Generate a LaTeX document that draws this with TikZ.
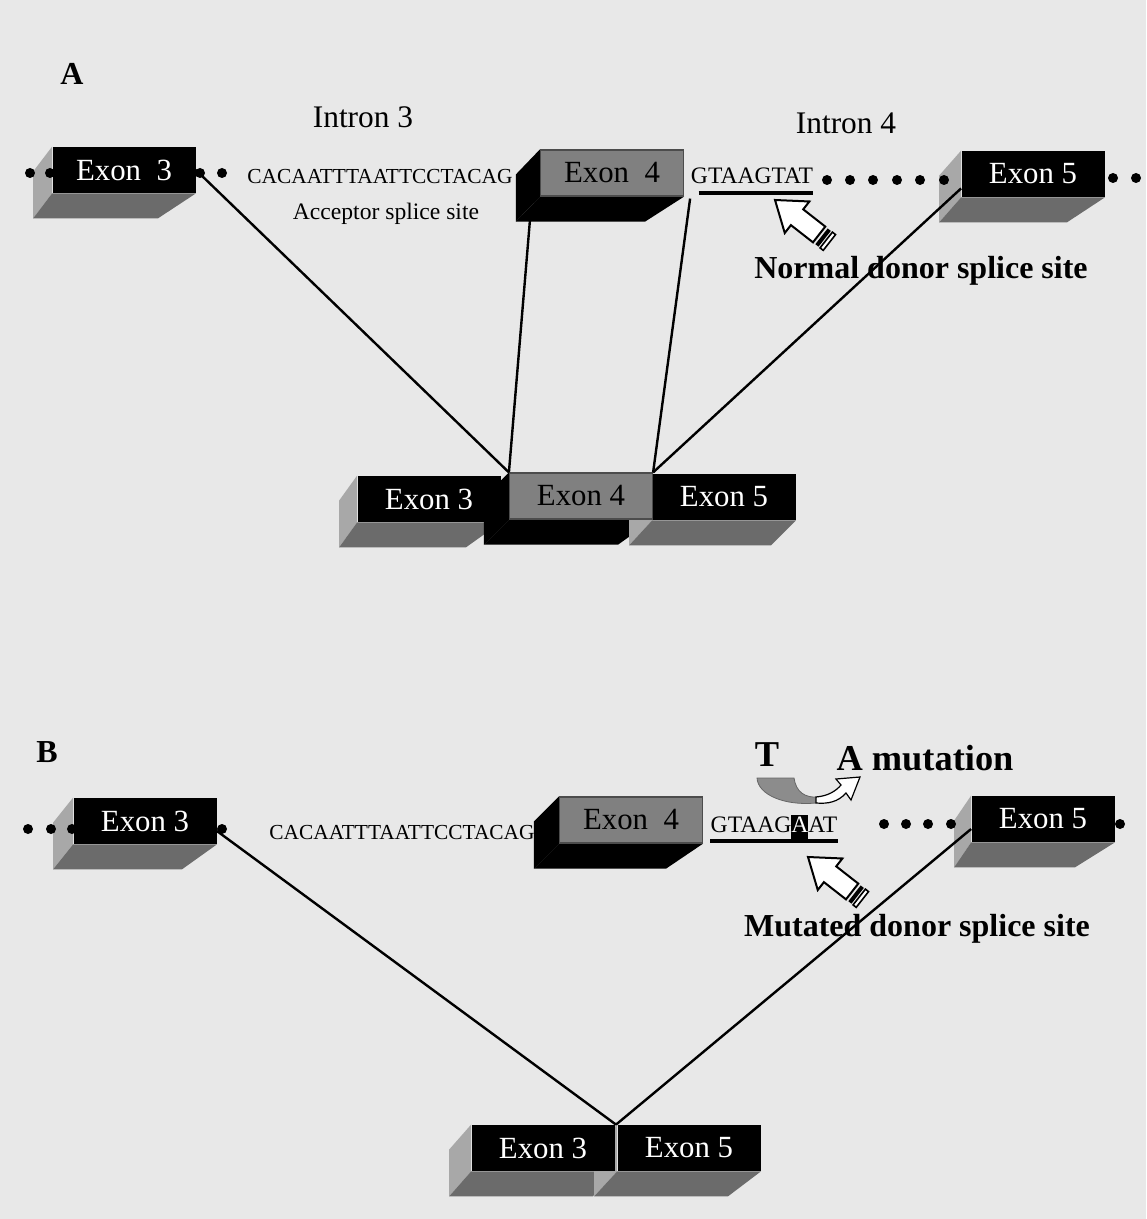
\documentclass[tikz,border=0pt]{standalone}
\usepackage{fontspec}
\setmainfont{Liberation Serif}
\usetikzlibrary{calc}
\pgfdeclarelayer{bg}
\pgfdeclarelayer{back}
\pgfsetlayers{bg,back,main}
\definecolor{paper}{gray}{0.91}
\definecolor{exongrey}{gray}{0.50}
\definecolor{sidelight}{gray}{0.66}
\definecolor{sidedark}{gray}{0.42}
\definecolor{arcgrey}{gray}{0.55}
\tikzset{
    exon/.style={rectangle, minimum width=71.5pt, minimum height=23pt, inner sep=0pt,
        font=\fontsize{15.4}{18}\selectfont},
    blackexon/.style={exon, fill=black, text=white},
    greyexon/.style={exon, fill=exongrey, draw=black!70, line width=0.6pt, text=black},
    seq/.style={inner sep=0pt, anchor=base, font=\fontsize{11.8}{14}\selectfont},
    introntext/.style={inner sep=0pt, anchor=base, font=\fontsize{15.7}{18}\selectfont},
    boldtext/.style={inner sep=0pt, anchor=base, font=\bfseries\fontsize{16}{19}\selectfont},
    panel/.style={inner sep=0pt, anchor=base, font=\bfseries\fontsize{16}{19}\selectfont},
    splice/.style={line width=1.2pt}
}
% side and bottom faces of an exon block, behind the front face
\newcommand{\bevel}[5]{%
    \begin{pgfonlayer}{back}
        \fill[#2] (#1.north west) -- (#1.south west) -- ($(#1.south west)+(#4,25)$) -- ($(#1.north west)+(#4,25)$) -- cycle;
        \fill[#3] (#1.south west) -- (#1.south east) -- ($(#1.south east)+(#5,25)$) -- ($(#1.south west)+(#4,25)$) -- cycle;
    \end{pgfonlayer}}
% white block arrow pointing at a splice site
\newcommand{\hollowarrow}[2]{%
    \begin{scope}[shift={#1}, rotate=#2]
        \draw[fill=white, line width=1pt] (0,0) -- (-28,20) -- (-28,10) -- (-56,10) -- (-56,-10) -- (-28,-10) -- (-28,-20) -- cycle;
        \fill (-59,-10) rectangle (-63,10);
        \draw[fill=white, line width=0.8pt] (-65,-10) rectangle (-69,10);
    \end{scope}}

\begin{document}
\begin{tikzpicture}[x=0.5pt, y=-0.5pt]
    \begin{pgfonlayer}{bg}
        \fill[paper] (0,0) rectangle (1146,1219);
    \end{pgfonlayer}
    \useasboundingbox (0,0) rectangle (1146,1219);

    % ---------- A ----------
    \draw (72,85) node[panel](tagA){A};
    \draw (363,128) node[introntext](in3){Intron 3};
    \draw (846,134) node[introntext](in4){Intron 4};

    \foreach \x in {30,50,200,222} \fill (\x,173) circle (2.5pt);
    \foreach \x in {827,850,873,897,920,944} \fill (\x,180) circle (2.5pt);
    \foreach \x in {1113,1136} \fill (\x,178) circle (2.5pt);

    \draw (124,170) node[blackexon](e3A){Exon\ \ 3};
    \bevel{e3A}{sidelight}{sidedark}{-19}{-38}
    \draw (612,173) node[greyexon](e4A){Exon\ \ 4};
    \bevel{e4A}{black}{black}{-24}{-39}
    \draw (1033,174) node[blackexon](e5A){Exon 5};
    \bevel{e5A}{sidelight}{sidedark}{-22}{-38}

    \draw (380,184) node[seq, font=\fontsize{10.7}{13}\selectfont](accA){CACAATTTAATTCCTACAG};
    \draw (386,220) node[seq](acclbl){Acceptor splice site};
    \draw (752,184) node[seq](donA){GTAAGTAT};
    \draw[line width=2pt] ($(donA.base west)+(8,9)$) -- ($(donA.base east)+(0,9)$);
    \hollowarrow{(775,200)}{142}
    \draw (921,279) node[boldtext](normal){Normal donor splice site};

    \draw (429,499) node[blackexon](e3a){Exon 3};
    \bevel{e3a}{sidelight}{sidedark}{-18}{-35}
    \draw (581,496) node[greyexon](e4a){Exon 4};
    \bevel{e4a}{black}{black}{-25}{-35}
    \draw (724,497) node[blackexon](e5a){Exon 5};
    \bevel{e5a}{sidelight}{sidedark}{-23}{-25}

    \draw[splice] (e3A.east) -- (e4a.north west);
    \draw[splice] ($(e4A.south west)+(-10,24)$) -- (e4a.north west);
    \draw[splice] ($(e4A.south east)+(6,2)$) -- (e4a.north east);
    \draw[splice] ($(e5A.south west)+(0,-9)$) -- (e4a.north east);

    % ---------- B ----------
    \draw (47,762) node[panel](tagB){B};

    \foreach \x in {28,51,72,222} \fill (\x,829) circle (2.5pt);
    \foreach \x in {884,906,928,951,1120} \fill (\x,824) circle (2.5pt);

    \draw (145,821) node[blackexon](e3B){Exon 3};
    \bevel{e3B}{sidelight}{sidedark}{-20}{-35}
    \draw (631,820) node[greyexon](e4B){Exon\ \ 4};
    \bevel{e4B}{black}{black}{-25}{-37}
    \draw (1043,819) node[blackexon](e5B){Exon 5};
    \bevel{e5B}{sidelight}{sidedark}{-17}{-40}

    \draw (402,839) node[seq, font=\fontsize{10.7}{13}\selectfont](accB){CACAATTTAATTCCTACAG};
    \draw (774,832) node[seq](donB){GTAAG{\setlength\fboxsep{0pt}\colorbox{black}{\rule[-4.5pt]{0pt}{13pt}\textcolor{white}{A}}}AT};
    \draw[line width=2pt] ($(donB.base west)+(0,9)$) -- ($(donB.base east)+(0,9)$);

    \draw (767,766) node[boldtext, font=\bfseries\fontsize{18.2}{21}\selectfont](tfrom){T};
    \draw (925,770) node[boldtext, font=\bfseries\fontsize{18.2}{21}\selectfont](tto){A mutation};
    \fill[arcgrey, draw=black!60, line width=0.4pt] (757,778) -- (794,778) .. controls (796,792) and (805,798) .. (818,797)
        -- (816,803) .. controls (785,806) and (758,795) .. cycle;
    \draw[fill=white, line width=0.6pt] (816,797) .. controls (828,796) and (836,791) .. (841,785) -- (836,779) -- (860,777)
        -- (851,800) -- (846,793) .. controls (838,802) and (828,804) .. (816,803) -- cycle;

    \hollowarrow{(808,857)}{142}
    \draw (917,936) node[boldtext](mutated){Mutated donor splice site};

    \draw (543,1148) node[blackexon](e3b){Exon 3};
    \bevel{e3b}{sidelight}{sidedark}{-22}{-22}
    \draw (689,1148) node[blackexon](e5b){Exon 5};
    \bevel{e5b}{sidelight}{sidedark}{-23}{-33}

    \coordinate (jB) at ($(e3b.north east)!.5!(e5b.north west)$);
    \draw[splice] ($(e3B.east)+(0,10)$) -- (jB);
    \draw[splice] ($(e5B.west)+(0,10)$) -- (jB);
\end{tikzpicture}
\end{document}
